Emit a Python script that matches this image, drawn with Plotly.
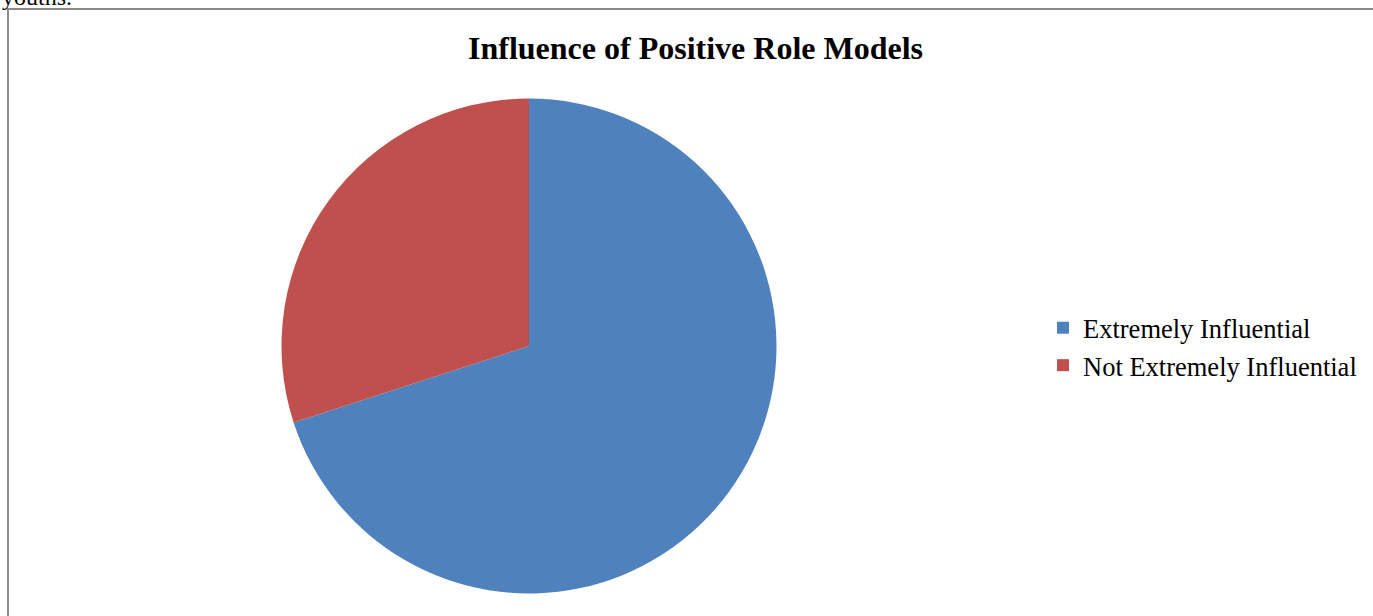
import plotly.graph_objects as go

labels = ["Extremely Influential", "Not Extremely Influential"]
values = [70, 30]
colors = ["#4F81BD", "#C0504D"]
title_text = "Influence of Positive Role Models"
W, H = 1373, 616

cx, cy, r = 529, 346, 247.5

fig = go.Figure(go.Pie(
    labels=labels, values=values, sort=False, direction="clockwise", rotation=0,
    marker=dict(colors=colors, line=dict(width=0)),
    textinfo="none", hoverinfo="label+percent",
    domain=dict(x=[(cx - r) / W, (cx + r) / W], y=[(H - cy - r) / H, (H - cy + r) / H]),
))

fig.update_layout(
    width=W, height=H, margin=dict(l=0, r=0, t=0, b=0),
    paper_bgcolor="white", plot_bgcolor="white",
    font=dict(family="Liberation Serif, Times New Roman, serif", color="black"),
    title=dict(text="<b>" + title_text + "</b>", x=695.5 / W, y=(H - 47.5) / H,
               xanchor="center", yanchor="middle",
               font=dict(size=32, family="Liberation Serif", color="black")),
    legend=dict(x=1043 / W, xanchor="left", y=(H - 346.5) / H, yanchor="middle",
                font=dict(size=26.5, family="Liberation Serif", color="black"),
                bgcolor="rgba(0,0,0,0)"),
    shapes=[dict(type="rect", xref="paper", yref="paper",
                 x0=8 / W, x1=1.02, y0=-0.02, y1=(H - 9) / H,
                 line=dict(color="#8a8a8a", width=2), fillcolor="rgba(0,0,0,0)")],
    annotations=[dict(text="youths.", xref="paper", yref="paper", x=0, y=(H - 12.5) / H,
                      xanchor="left", yanchor="bottom", showarrow=False,
                      font=dict(size=24, family="Liberation Serif", color="black"))],
)

fig.write_html("out.html", config={"displayModeBar": False},
               post_script="document.body.style.margin='0';document.body.style.padding='0';")
